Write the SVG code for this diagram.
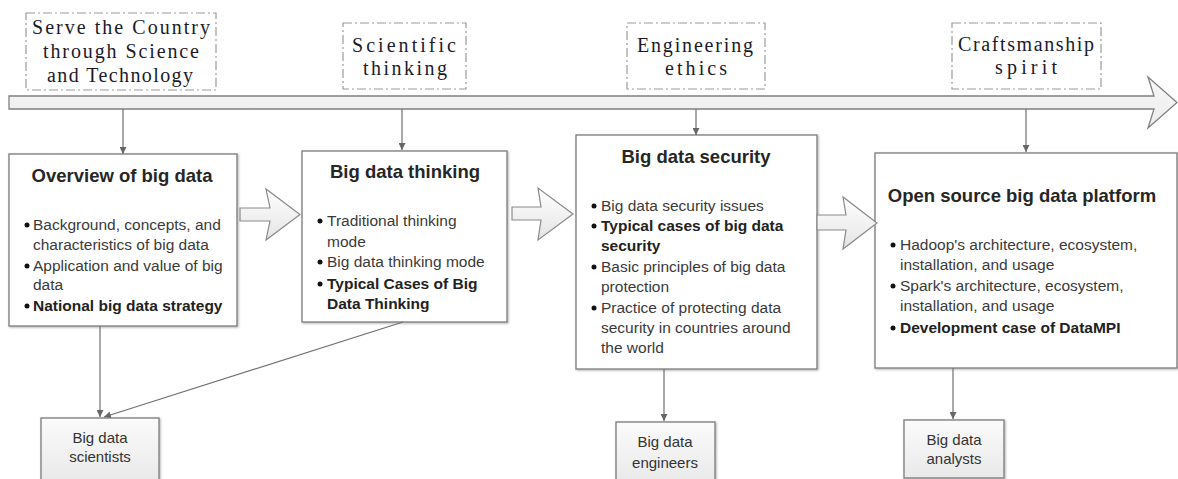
<svg xmlns="http://www.w3.org/2000/svg" width="1178" height="479" viewBox="0 0 1178 479">
  <defs>
    <linearGradient id="gBand" x1="0" y1="0" x2="0" y2="1">
      <stop offset="0" stop-color="#f7f7f7"/>
      <stop offset="1" stop-color="#ececec"/>
    </linearGradient>
    <linearGradient id="gArrow" x1="0" y1="0" x2="0" y2="1">
      <stop offset="0" stop-color="#ffffff"/>
      <stop offset="1" stop-color="#e4e4e4"/>
    </linearGradient>
    <linearGradient id="gRole" x1="0" y1="0" x2="0" y2="1">
      <stop offset="0" stop-color="#fbfbfb"/>
      <stop offset="1" stop-color="#e9e9e9"/>
    </linearGradient>
    <filter id="shadow" x="-5%" y="-5%" width="110%" height="110%">
      <feDropShadow dx="1" dy="1" stdDeviation="0.8" flood-color="#000" flood-opacity="0.3"/>
    </filter>
    <marker id="ah" viewBox="0 0 10 10" refX="10" refY="5" markerWidth="7" markerHeight="7" orient="auto" markerUnits="userSpaceOnUse">
      <path d="M0,0 L10,5 L0,10 z" fill="#666"/>
    </marker>
  </defs>
  <style>
    .value text { font-family: "Liberation Serif", "Times New Roman", serif; font-size: 20px; fill: #1b1b2a; text-anchor: middle; }
    .dash { fill: #fff; stroke: #9a9a9a; stroke-width: 1.2; stroke-dasharray: 9 3 2 3; }
    .box { fill: #fff; stroke: #7a7a7a; stroke-width: 1.3; filter: url(#shadow); }
    .title { font-family: "Liberation Sans", Arial, sans-serif; font-weight: bold; font-size: 18.5px; fill: #262626; text-anchor: middle; }
    .item { font-family: "Liberation Sans", Arial, sans-serif; font-size: 15.5px; fill: #3a3a3a; }
    .item.b { font-weight: bold; fill: #222; }
    .dot { fill: #111; }
    .block { fill: url(#gArrow); stroke: #8a8a8a; stroke-width: 1.2; }
    .role { fill: url(#gRole); stroke: #7a7a7a; stroke-width: 1.3; filter: url(#shadow); }
    .role-t { font-family: "Liberation Sans", Arial, sans-serif; font-size: 15px; fill: #333; text-anchor: middle; }
    .conn { stroke: #707070; stroke-width: 1.2; fill: none; marker-end: url(#ah); }
  </style>

  <rect width="1178" height="479" fill="#fff"/>

  <!-- timeline band -->
  <g id="timeline">
    <polygon points="9,96 1154,96 1148,77 1177,102.5 1148,128 1154,109 9,109" fill="url(#gBand)" stroke="#808080" stroke-width="1.3"/>
  </g>

  <!-- values above the timeline -->
  <g id="value-country" class="value">
    <rect class="dash" x="26" y="13" width="190" height="77"/>
    <text x="121" y="34" textLength="178" lengthAdjust="spacing">Serve the Country</text>
    <text x="121" y="58" textLength="156" lengthAdjust="spacing">through Science</text>
    <text x="120" y="82" textLength="146" lengthAdjust="spacing">and Technology</text>
  </g>
  <g id="value-scientific" class="value">
    <rect class="dash" x="343" y="23" width="123" height="66"/>
    <text x="404" y="52" textLength="104" lengthAdjust="spacing">Scientific</text>
    <text x="405" y="75" textLength="84" lengthAdjust="spacing">thinking</text>
  </g>
  <g id="value-ethics" class="value">
    <rect class="dash" x="627" y="23" width="138" height="66"/>
    <text x="695" y="52" textLength="116" lengthAdjust="spacing">Engineering</text>
    <text x="696" y="75" textLength="62" lengthAdjust="spacing">ethics</text>
  </g>
  <g id="value-craft" class="value">
    <rect class="dash" x="952" y="23" width="149" height="66"/>
    <text x="1026" y="51" textLength="136" lengthAdjust="spacing">Craftsmanship</text>
    <text x="1026" y="74" textLength="62" lengthAdjust="spacing">spirit</text>
  </g>

  <!-- course modules -->
  <g id="overview">
    <rect class="box" x="9" y="154" width="228" height="172"/>
    <text class="title" x="122" y="182">Overview of big data</text>
    <circle class="dot" cx="27" cy="225" r="2.5"/>
    <text class="item" x="33" y="230">Background, concepts, and</text>
    <text class="item" x="33" y="250">characteristics of big data</text>
    <circle class="dot" cx="27" cy="266" r="2.5"/>
    <text class="item" x="33" y="271">Application and value of big</text>
    <text class="item" x="33" y="290">data</text>
    <circle class="dot" cx="27" cy="306" r="2.5"/>
    <text class="item b" x="33" y="311">National big data strategy</text>
  </g>

  <g id="thinking">
    <rect class="box" x="302" y="151" width="205" height="171"/>
    <text class="title" x="405" y="178">Big data thinking</text>
    <circle class="dot" cx="320" cy="221" r="2.5"/>
    <text class="item" x="327" y="226">Traditional  thinking</text>
    <text class="item" x="327" y="247">mode</text>
    <circle class="dot" cx="320" cy="262" r="2.5"/>
    <text class="item" x="327" y="267">Big data thinking mode</text>
    <circle class="dot" cx="320" cy="284" r="2.5"/>
    <text class="item b" x="327" y="289">Typical Cases of Big</text>
    <text class="item b" x="327" y="309">Data Thinking</text>
  </g>

  <g id="security">
    <rect class="box" x="576" y="135" width="241" height="234"/>
    <text class="title" x="696" y="163">Big data security</text>
    <circle class="dot" cx="594" cy="206" r="2.5"/>
    <text class="item" x="601" y="211">Big data security issues</text>
    <circle class="dot" cx="594" cy="226" r="2.5"/>
    <text class="item b" x="601" y="231">Typical cases of big data</text>
    <text class="item b" x="601" y="251">security</text>
    <circle class="dot" cx="594" cy="267" r="2.5"/>
    <text class="item" x="601" y="272">Basic principles of big data</text>
    <text class="item" x="601" y="292">protection</text>
    <circle class="dot" cx="594" cy="308" r="2.5"/>
    <text class="item" x="601" y="313">Practice of protecting data</text>
    <text class="item" x="601" y="333">security in countries around</text>
    <text class="item" x="601" y="353">the world</text>
  </g>

  <g id="platform">
    <rect class="box" x="875" y="153" width="302" height="215"/>
    <text class="title" x="1022" y="202">Open source big data platform</text>
    <circle class="dot" cx="893" cy="245" r="2.5"/>
    <text class="item" x="900" y="250">Hadoop's architecture, ecosystem,</text>
    <text class="item" x="900" y="270">installation, and usage</text>
    <circle class="dot" cx="893" cy="286" r="2.5"/>
    <text class="item" x="900" y="291">Spark's architecture, ecosystem,</text>
    <text class="item" x="900" y="311">installation, and usage</text>
    <circle class="dot" cx="893" cy="328" r="2.5"/>
    <text class="item b" x="900" y="333">Development case of DataMPI</text>
  </g>

  <!-- career roles -->
  <g id="role-scientists">
    <rect class="role" x="41" y="418" width="118" height="62"/>
    <text class="role-t" x="100" y="443">Big data</text>
    <text class="role-t" x="100" y="462">scientists</text>
  </g>
  <g id="role-engineers">
    <rect class="role" x="616" y="422" width="99" height="60"/>
    <text class="role-t" x="665" y="447">Big data</text>
    <text class="role-t" x="665" y="468">engineers</text>
  </g>
  <g id="role-analysts">
    <rect class="role" x="904" y="420" width="100" height="58"/>
    <text class="role-t" x="954" y="445">Big data</text>
    <text class="role-t" x="954" y="464">analysts</text>
  </g>

  <!-- connectors -->
  <g id="connectors">
    <polygon class="block" points="240,208 270,208 266,189 300,214.5 266,240 270,221 240,221"/>
    <polygon class="block" points="512,207 541,207 538,188 573,214 538,240 541,220 512,220"/>
    <polygon class="block" points="817,215 846,215 843,197 877,223 843,249 846,230 817,230"/>
    <line class="conn" x1="123" y1="109" x2="123" y2="154"/>
    <line class="conn" x1="402" y1="109" x2="402" y2="150"/>
    <line class="conn" x1="696" y1="109" x2="696" y2="135"/>
    <line class="conn" x1="1026" y1="109" x2="1026" y2="152"/>
    <line class="conn" x1="100" y1="326" x2="100" y2="417"/>
    <line class="conn" x1="403" y1="322" x2="104" y2="417"/>
    <line class="conn" x1="664" y1="369" x2="664" y2="421"/>
    <line class="conn" x1="953" y1="368" x2="953" y2="419"/>
  </g>
</svg>
